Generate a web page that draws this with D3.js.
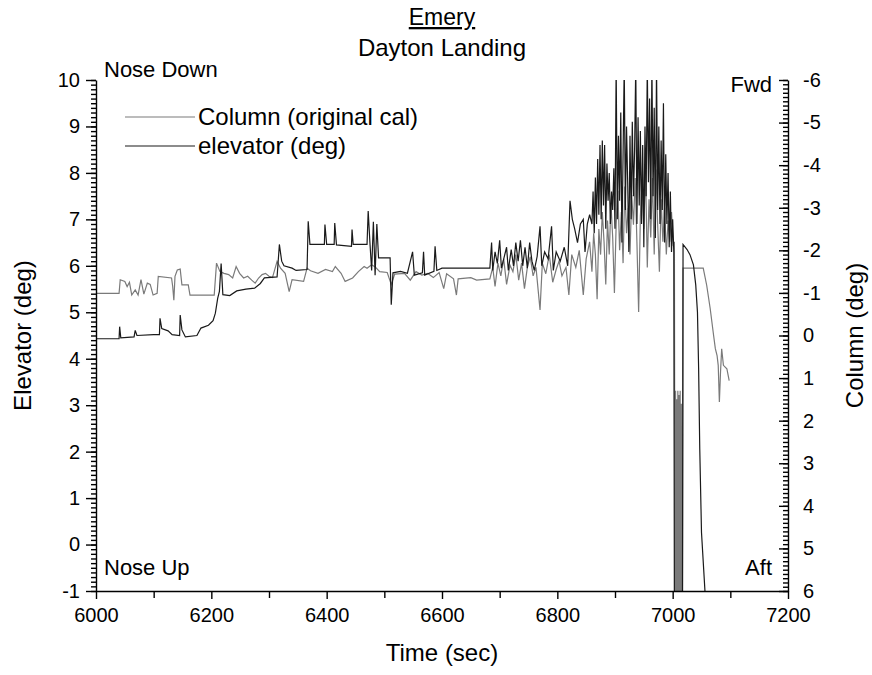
<!DOCTYPE html>
<html>
<head>
<meta charset="utf-8">
<script src="https://cdn.jsdelivr.net/npm/d3@7.9.0/dist/d3.min.js"></script>
<style>
  body { margin: 0; background: #fff; }
  svg text { font-family: Arial, "Liberation Sans", sans-serif; fill: #000; }
</style>
</head>
<body>
<svg id="chart" width="872" height="675"></svg>
<script>
// elevator (deg), left axis
const elevTime = [6000,6040,6041,6043,6066,6068,6071,6100,6110,6111,6114,6125,6132,6145,6146,6149,6155,6175,6182,6195,6203,6207,6211,6214,6217,6220,6232,6244,6260,6275,6285,6292,6314,6318,6322,6326,6340,6347,6366,6368,6371,6396,6397,6400,6413,6414,6417,6443,6444,6446,6470,6472,6475,6478,6481,6484,6487,6490,6510,6512,6515,6528,6540,6549,6552,6566,6568,6570,6586,6588,6591,6600,6683,
  6686,6688,6692,6696,6700,6703,6708,6712,6715,6720,6724,6728,6732,6736,6740,6744,6748,6752,6756,6760,6765,6770,6773,6778,6784,6790,6793,6798,6805,6812,6818,6822,6826,6830,6835,6840,6845,6848,6852,6856,
  6860,6862,6864,6866,6868,6870,6872,6874,6876,6878,6880,6882,6884,6886,6888,6890,6892,6894,6896,6898,6900,6902,6904,6906,6908,6910,6912,6914,6916,6918,6920,6922,6924,6926,6928,6930,6932,6934,6936,6938,6940,6942,6944,6946,6948,6950,6952,6954,6956,6958,6960,6962,6964,6966,6968,6970,6972,6974,6976,6978,6980,6982,6984,6986,6988,6990,6992,6994,6996,6998,7000,7002,7003,
  7017,7018,7025,7030,7036,7040,7043,7045,7047,7050,7056,7058];
const elevDeg = [4.43,4.43,4.69,4.45,4.47,4.61,4.5,4.52,4.52,4.87,4.65,4.6,4.52,4.5,4.94,4.62,4.47,4.5,4.66,4.72,4.82,4.98,5.3,5.45,6.05,5.38,5.36,5.46,5.5,5.52,5.62,5.74,5.76,6.46,6.1,6.0,5.95,5.9,5.92,6.96,6.46,6.46,6.89,6.46,6.46,6.92,6.45,6.42,6.78,6.46,6.46,7.18,6.5,5.9,6.95,5.8,6.9,6.17,6.17,5.16,5.85,5.88,5.84,6.3,5.8,5.85,6.3,5.8,5.88,6.42,5.9,5.95,5.95,
  6.5,5.9,6.3,6.05,6.55,5.95,6.2,6.4,5.9,6.35,6.0,6.5,6.1,6.55,6.0,6.4,5.95,6.5,6.1,5.9,6.2,6.85,6.0,6.3,6.15,6.85,5.9,6.3,6.1,6.4,6.0,7.4,7.0,6.8,6.5,6.9,7.0,6.3,6.9,7.1,
  6.9,7.6,6.7,7.9,6.9,8.3,7.1,8.6,7.0,8.7,7.3,8.6,6.8,8.2,7.4,8.0,6.9,7.6,7.2,8.1,6.8,10.3,7.0,8.8,7.4,9.3,6.5,8.4,10.3,7.2,9.0,7.8,6.3,8.8,7.0,9.1,7.5,8.5,10.3,6.9,9.2,7.3,8.9,6.9,8.6,6.4,9.0,7.5,10.3,7.8,9.6,7.0,10.3,7.5,9.4,6.6,10.3,7.2,9.0,6.9,8.7,7.2,9.5,6.5,8.4,6.9,8.0,6.4,7.6,6.3,7.0,6.3,-1.5,
  -1.5,6.46,6.35,6.24,6.02,5.59,5.0,3.8,2.05,0.26,-1.0,-1.5];

// Column (original cal), right axis
const colTime = [6000,6040,6042,6050,6054,6058,6062,6068,6073,6078,6083,6089,6094,6099,6106,6108,6131,6133,6135,6137,6141,6146,6149,6160,6163,6205,6209,6215,6222,6230,6237,6243,6249,6256,6263,6270,6276,6282,6288,6294,6300,6306,6314,6320,6328,6335,6340,6360,6366,6372,6385,6398,6410,6415,6425,6432,6445,6455,6465,6470,6478,6485,6492,6505,6512,6518,6535,6545,6555,6565,6575,6585,6595,6603,6608,6620,6625,6628,6650,6660,6683,
  6688,6692,6697,6702,6707,6712,6718,6723,6728,6733,6738,6743,6748,6753,6758,6763,6770,6774,6780,6786,6792,6798,6803,6808,6815,6820,6825,6832,6838,6845,6850,6856,
  6860,6863,6866,6869,6872,6875,6878,6881,6884,6887,6890,6893,6896,6899,6902,6905,6908,6911,6914,6917,6920,6923,6926,6929,6932,6935,6938,6941,6944,6947,6950,6953,6956,6959,6962,6965,6968,6971,6974,6977,6980,6983,6986,6989,6992,6995,6998,7001,7003,
  7004,7005,7006,7007,7008,7009,7010,7011,7012,7013,7014,7015,7016,7017,7018,7053,7059,7065,7071,7074,7077,7079,7081,7083,7085,7088,7094,7098];
const colDeg = [-0.99,-0.99,-1.31,-1.27,-1.15,-1.25,-0.95,-1.07,-0.95,-1.31,-0.97,-1.23,-1.2,-0.95,-0.99,-1.39,-1.35,-1.15,-0.83,-1.39,-1.54,-1.56,-1.19,-1.19,-0.95,-0.95,-1.7,-1.5,-1.46,-1.43,-1.35,-1.62,-1.46,-1.35,-1.39,-1.3,-1.23,-1.35,-1.43,-1.46,-1.39,-1.36,-1.74,-1.58,-1.46,-1.03,-1.31,-1.27,-1.58,-1.52,-1.46,-1.55,-1.5,-1.62,-1.46,-1.27,-1.35,-1.5,-1.62,-1.58,-1.66,-1.6,-1.5,-1.48,-1.2,-1.44,-1.46,-1.3,-1.5,-1.42,-1.46,-1.36,-1.48,-1.1,-1.45,-1.33,-0.95,-1.33,-1.36,-1.3,-1.33,
  -1.6,-1.15,-1.7,-1.4,-1.8,-1.2,-1.65,-1.5,-1.9,-1.3,-1.7,-1.1,-1.6,-1.85,-1.4,-1.6,-0.6,-1.7,-1.45,-1.9,-1.25,-1.55,-1.75,-1.4,-1.6,-0.95,-1.9,-1.6,-2.0,-0.95,-1.8,-2.2,
  -1.5,-2.4,-1.9,-0.85,-2.5,-1.9,-2.9,-2.2,-1.2,-2.7,-1.9,-3.1,-2.3,-1.0,-2.6,-3.4,-2.0,-2.9,-1.7,-3.5,-2.4,-3.0,-1.9,-3.3,-2.6,-3.7,-2.2,-0.55,-2.8,-3.6,-2.5,-3.9,-1.6,-3.2,-2.3,-3.7,-1.9,-3.9,-2.6,-1.5,-3.2,-2.2,-3.0,-1.9,-2.7,-2.2,-2.9,-2.1,-2.2,
  6.5,1.3,6.5,1.5,6.5,1.3,6.5,1.4,6.5,1.3,6.5,1.6,6.5,6.5,-1.58,-1.58,-1.18,-0.64,0.0,0.31,0.47,0.7,1.56,0.85,0.31,0.7,0.78,1.06];

const timeTicks = [6000,6200,6400,6600,6800,7000,7200];
const elevTicks = [-1,0,1,2,3,4,5,6,7,8,9,10];
const colTicks = [-6,-5,-4,-3,-2,-1,0,1,2,3,4,5,6];

const margin = { top: 80, right: 84, bottom: 84, left: 96 };
const width = 872, height = 675;
const svg = d3.select('#chart');

let x = d3.scaleLinear().domain([6000, 7200]).range([margin.left, width - margin.right]);
let yL = d3.scaleLinear().domain([-1, 10]).range([height - margin.bottom, margin.top]);
let yR = d3.scaleLinear().domain([6, -6]).range([height - margin.bottom, margin.top]);

svg.append('clipPath').attr('id', 'clip')
  .append('rect')
  .attr('x', margin.left).attr('y', margin.top)
  .attr('width', x(7200) - x(6000)).attr('height', yL(-1) - yL(10));

let plot = svg.append('g').attr('clip-path', 'url(#clip)');

let colLine = d3.line().x((d) => x(d[0])).y((d) => yR(d[1]));
let elevLine = d3.line().x((d) => x(d[0])).y((d) => yL(d[1]));

plot.append('path')
  .datum(colTime.map((t, i) => [t, colDeg[i]]))
  .attr('d', colLine)
  .attr('fill', 'none').attr('stroke', '#7a7a7a').attr('stroke-width', 1.2);

plot.append('path')
  .datum(elevTime.map((t, i) => [t, elevDeg[i]]))
  .attr('d', elevLine)
  .attr('fill', 'none').attr('stroke', '#1a1a1a').attr('stroke-width', 1.2);

// axes
const fmt = (d) => String(d);
let bottomY = height - margin.bottom;

svg.append('g').attr('transform', `translate(0,${bottomY})`)
  .call(d3.axisBottom(x).tickValues(d3.range(6100, 7200, 200)).tickSize(7).tickFormat(''))
  .call((g) => g.select('.domain').remove());
svg.append('g').attr('transform', `translate(0,${bottomY})`)
  .call(d3.axisBottom(x).tickValues(timeTicks).tickSize(8).tickPadding(9).tickSizeOuter(0).tickFormat(fmt));

svg.append('g').attr('transform', `translate(${margin.left},0)`)
  .call(d3.axisLeft(yL).tickValues(d3.range(-10, 101).map((d) => d / 10)).tickSize(5).tickFormat(''))
  .call((g) => g.select('.domain').remove());
svg.append('g').attr('transform', `translate(${margin.left},0)`)
  .call(d3.axisLeft(yL).tickValues(elevTicks).tickSize(10).tickPadding(6).tickSizeOuter(0).tickFormat(fmt));

let rightX = width - margin.right;
svg.append('g').attr('transform', `translate(${rightX},0)`)
  .call(d3.axisRight(yR).tickValues(d3.range(-60, 61).map((d) => d / 10)).tickSize(-5).tickFormat(''))
  .call((g) => g.select('.domain').remove());
svg.append('g').attr('transform', `translate(${rightX},0)`)
  .call(d3.axisRight(yR).tickValues(colTicks).tickSize(-9).tickPadding(15).tickSizeOuter(0).tickFormat(fmt));

svg.selectAll('.tick text').attr('font-size', 20).style('font-family', 'Arial, "Liberation Sans", sans-serif');
svg.selectAll('.domain, .tick line').attr('stroke', '#000').attr('stroke-width', 1.4);

// titles
let cx = (margin.left + rightX) / 2;
svg.append('text').attr('x', cx).attr('y', 25).attr('text-anchor', 'middle')
  .attr('font-size', 23).attr('text-decoration', 'underline').text('Emery');
svg.append('text').attr('x', cx).attr('y', 56).attr('text-anchor', 'middle')
  .attr('font-size', 24).text('Dayton Landing');

svg.append('text').attr('x', margin.left + 8).attr('y', 77).attr('font-size', 22).text('Nose Down');
svg.append('text').attr('x', margin.left + 8).attr('y', 575).attr('font-size', 22).text('Nose Up');
svg.append('text').attr('x', rightX - 16).attr('y', 92).attr('text-anchor', 'end').attr('font-size', 22).text('Fwd');
svg.append('text').attr('x', rightX - 16).attr('y', 575).attr('text-anchor', 'end').attr('font-size', 22).text('Aft');

svg.append('text').attr('transform', `translate(31,${(margin.top + bottomY) / 2}) rotate(-90)`)
  .attr('text-anchor', 'middle').attr('font-size', 24).text('Elevator (deg)');
svg.append('text').attr('transform', `translate(863,${(margin.top + bottomY) / 2}) rotate(-90)`)
  .attr('text-anchor', 'middle').attr('font-size', 24).text('Column (deg)');
svg.append('text').attr('x', cx).attr('y', 661).attr('text-anchor', 'middle')
  .attr('font-size', 24).text('Time (sec)');

// legend
const legendItems = [
  { label: 'Column (original cal)', color: '#7a7a7a' },
  { label: 'elevator (deg)', color: '#1a1a1a' },
];
let legend = svg.append('g');
legendItems.forEach((d, i) => {
  let ly = 117 + i * 29;
  legend.append('line').attr('x1', 125).attr('x2', 195).attr('y1', ly).attr('y2', ly)
    .attr('stroke', d.color).attr('stroke-width', 1.2);
  legend.append('text').attr('x', 198).attr('y', ly + 8).attr('font-size', 24).text(d.label);
});
</script>
</body>
</html>
